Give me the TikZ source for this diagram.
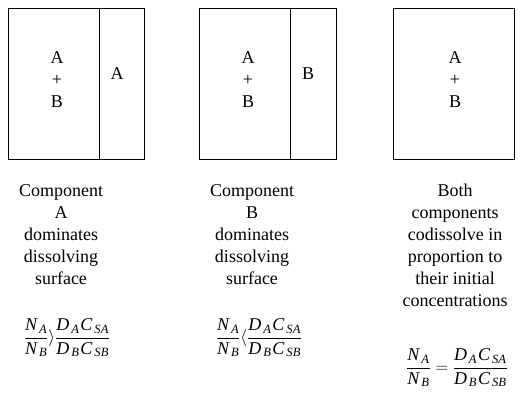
\documentclass[tikz,border=0pt]{standalone}
\usepackage{amsmath}
\usepackage{fontspec}
\setmainfont{Liberation Serif}
\newcommand{\vv}[1]{\textit{#1}}
\newcommand{\sbs}[2]{\vv{#1}_{\mkern3mu\vv{#2}}}
\newcommand{\lhsfr}{\frac{\sbs{N}{A}}{\sbs{N}{B}}}
\newcommand{\rhsfr}{\frac{\sbs{D}{A}\mkern1mu\sbs{C}{SA}}{\sbs{D}{B}\mkern1mu\sbs{C}{SB}}}
\begin{document}
\begin{tikzpicture}[x=1pt,y=-1pt,
  box/.style={draw, line width=1pt, inner sep=0pt},
  lbl/.style={font=\fontsize{18}{22}\selectfont, align=center, inner sep=0pt},
  frm/.style={font=\fontsize{18}{22}\selectfont, inner sep=0pt}]
\useasboundingbox (0,0) rectangle (526,393);
% boxes
\node[box, minimum width=136pt, minimum height=150pt] (b1) at (76,84) {};
\node[box, minimum width=137pt, minimum height=150pt] (b2) at (267.5,84) {};
\node[box, minimum width=121pt, minimum height=150pt] (b3) at (453.5,84) {};
% dividers
\coordinate (d1t) at (99,9);  \coordinate (d1b) at (99,159);
\coordinate (d2t) at (290,9); \coordinate (d2b) at (290,159);
\draw[line width=1pt] (d1t) -- (d1b);
\draw[line width=1pt] (d2t) -- (d2b);
% contents
\node[lbl] (m1) at (57,80) {A\\+\\B};
\node[lbl] (s1) at (117,74) {A};
\node[lbl] (m2) at (248,80) {A\\+\\B};
\node[lbl] (s2) at (308,74) {B};
\node[lbl] (m3) at (455,80) {A\\+\\B};
% captions
\node[lbl, anchor=north] (c1) at (61,184) {Component\\A\\dominates\\dissolving\\surface};
\node[lbl, anchor=north] (c2) at (252,184) {Component\\B\\dominates\\dissolving\\surface};
\node[lbl, anchor=north] (c3) at (455,184) {Both\\components\\codissolve in\\proportion to\\their initial\\concentrations};
% formulas
\node[frm] (f1) at (67,338) {$\displaystyle\lhsfr\rangle\rhsfr$};
\node[frm] (f2) at (259,338) {$\displaystyle\lhsfr\langle\rhsfr$};
\node[frm] (f3) at (457,368) {$\displaystyle\lhsfr=\rhsfr$};
\end{tikzpicture}
\end{document}
